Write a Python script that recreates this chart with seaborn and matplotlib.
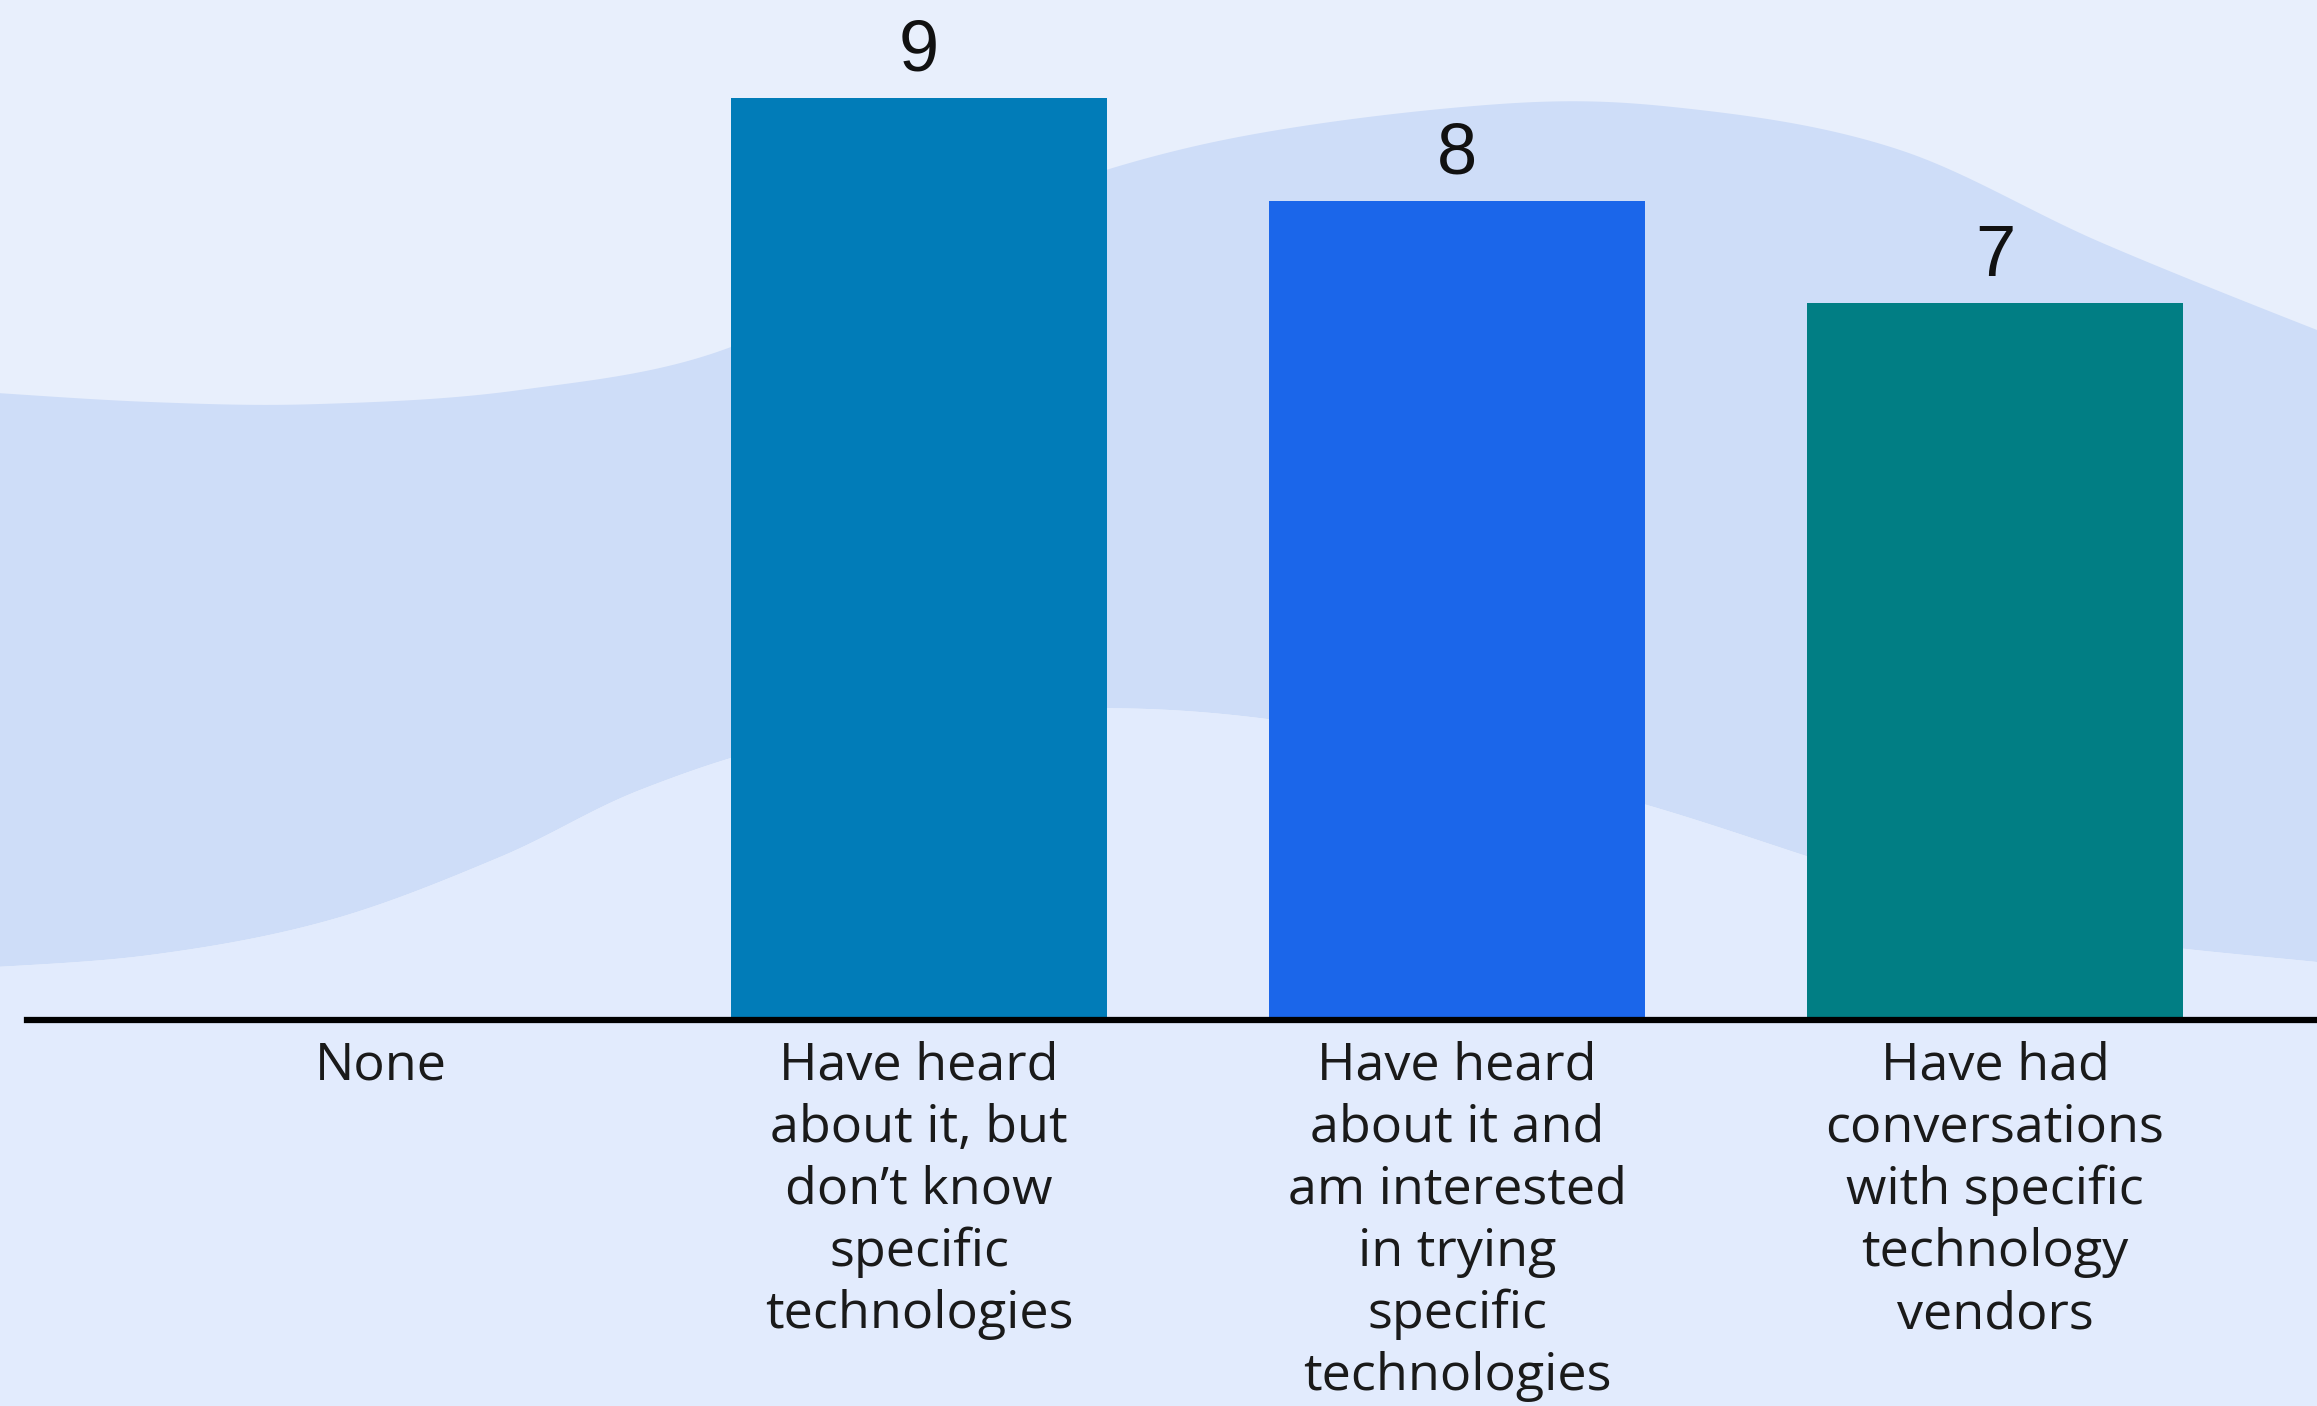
import numpy as np
import pandas as pd
import matplotlib
matplotlib.use("Agg")
import matplotlib.pyplot as plt
import seaborn as sns

# Survey responses: awareness of the technology
categories = [
    "None",
    "Have heard\nabout it, but\ndon\u2019t know\nspecific\ntechnologies",
    "Have heard\nabout it and\nam interested\nin trying\nspecific\ntechnologies",
    "Have had\nconversations\nwith specific\ntechnology\nvendors",
]
counts = [0, 9, 8, 7]
bar_colors = ["#017CB8", "#017CB8", "#1B66EA", "#017E84"]

BG_TOP = "#E8EFFC"
BG_BAND = "#CEDDF8"
BG_LOW = "#E2EBFD"

sns.set_theme(style="white")
plt.rcParams["font.family"] = ["Open Sans", "DejaVu Sans"]

W, H, DPI = 2317, 1406, 100
fig = plt.figure(figsize=(W / DPI, H / DPI), dpi=DPI)
fig.patch.set_facecolor(BG_TOP)


def smooth_curve(px, py, n=30):
    """Catmull-Rom spline through the given control points."""
    p = np.column_stack([px, py]).astype(float)
    p = np.vstack([2 * p[0] - p[1], p, 2 * p[-1] - p[-2]])
    out = []
    t = np.linspace(0, 1, n, endpoint=False)[:, None]
    for i in range(1, len(p) - 2):
        p0, p1, p2, p3 = p[i - 1], p[i], p[i + 1], p[i + 2]
        seg = 0.5 * ((2 * p1) + (-p0 + p2) * t
                     + (2 * p0 - 5 * p1 + 4 * p2 - p3) * t ** 2
                     + (-p0 + 3 * p1 - 3 * p2 + p3) * t ** 3)
        out.append(seg)
    out.append(p[-2][None, :])
    out = np.vstack(out)
    return out[:, 0], out[:, 1]


# Decorative wave band behind the chart (figure pixel space, y downwards)
bg = fig.add_axes([0, 0, 1, 1], zorder=0)
bg.set_xlim(0, W)
bg.set_ylim(H, 0)
bg.axis("off")
up_x = [-50, 150, 320, 520, 731, 950, 1200, 1500, 1700, 1900, 2100, 2317, 2400]
up_y = [390, 402, 404, 390, 347, 228, 145, 104, 110, 150, 242, 330, 360]
lo_x = [-50, 150, 330, 500, 640, 800, 1000, 1200, 1420, 1647, 1850, 2050, 2317, 2400]
lo_y = [970, 955, 920, 857, 790, 740, 712, 712, 745, 805, 870, 930, 962, 966]
ux, uy = smooth_curve(up_x, up_y)
lx, ly = smooth_curve(lo_x, lo_y)
xs = np.linspace(-50, W + 50, 1200)
upper = np.interp(xs, ux, uy)
lower = np.interp(xs, lx, ly)
bg.fill_between(xs, upper, lower, color=BG_BAND, lw=0)
bg.fill_between(xs, lower, H + 10, color=BG_LOW, lw=0)

# Main bar chart
left_px, axis_px = 27, 1020
ax = fig.add_axes([left_px / W, (H - axis_px) / H, 1 - left_px / W, axis_px / H], zorder=1)
ax.patch.set_alpha(0)

df = pd.DataFrame({"category": categories, "count": counts})
sns.barplot(data=df, x="category", y="count", hue="category",
            palette=bar_colors, width=0.70, legend=False, saturation=1,
            linewidth=0, ax=ax, zorder=2)

for cont, v in zip(ax.containers, counts):
    ax.bar_label(cont, labels=[f"{v}" if v else ""], padding=9,
                 fontsize=52, color="#111111", family="Liberation Sans")

unit_px = 102.4
ax.set_ylim(0, axis_px / unit_px)
ax.set_xlim(-0.658, -0.658 + (W - left_px) / 538)

for s in ["left", "right", "top"]:
    ax.spines[s].set_visible(False)
ax.spines["bottom"].set_color("black")
ax.spines["bottom"].set_linewidth(4.5)
ax.spines["bottom"].set_zorder(5)

ax.set_yticks([])
ax.set_xlabel("")
ax.set_ylabel("")
ax.tick_params(axis="x", length=0, pad=15)
ax.set_xticks(range(len(categories)))
ax.set_xticklabels(categories, fontsize=37.5, color="#1A1A1A", linespacing=1.28)

fig.savefig("out.png", dpi=DPI, facecolor=fig.get_facecolor())
